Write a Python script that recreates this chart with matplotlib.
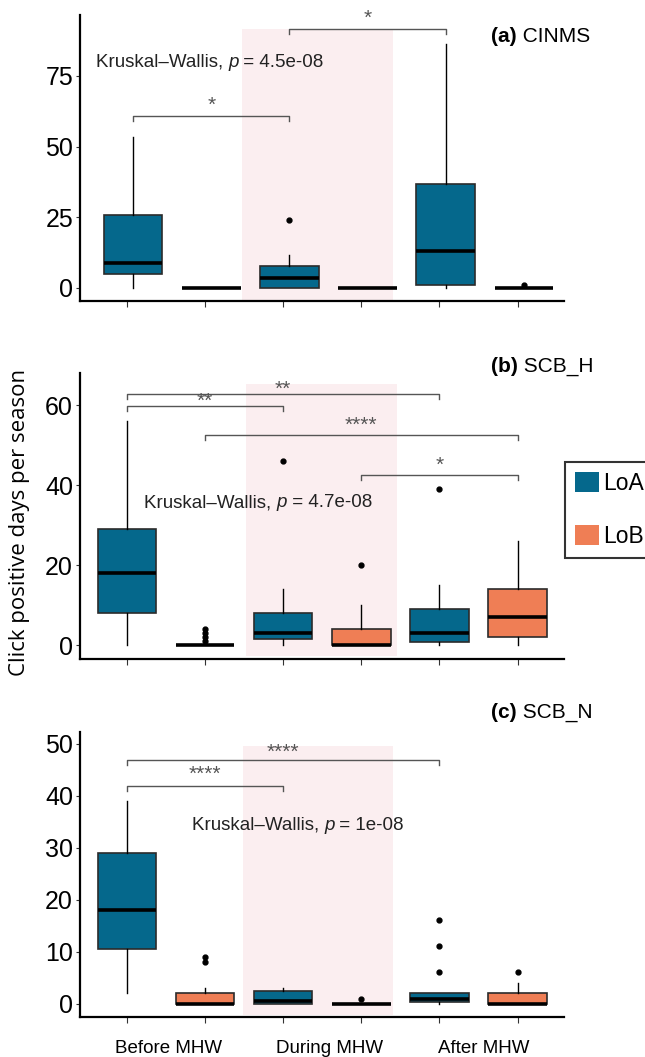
import matplotlib
matplotlib.use("Agg")
from matplotlib import pyplot as plt
from matplotlib.patches import Patch, Rectangle

# six boxes per panel: LoA/LoB for Before, During, After MHW
units = ["LoA", "LoB", "LoA", "LoB", "LoA", "LoB"]
periods = ["Before MHW", "During MHW", "After MHW"]

# (a) CINMS
a_q1 = [4.7, 0, 0, 0, 0.9, 0]
a_med = [8.8, 0, 3.5, 0, 12.9, 0]
a_q3 = [25.8, 0, 7.7, 0, 36.7, 0]
a_lo = [0, 0, 0, 0, 0, 0]
a_hi = [53.5, 0, 11.7, 0, 86.3, 0]
a_out = [[], [], [24], [], [], [1]]
a_pairs = [(0, 2, "*"), (2, 4, "*")]
a_pval = "4.5e-08"

# (b) SCB_H
b_q1 = [8, 0, 1.6, 0, 0.8, 2]
b_med = [18, 0, 3, 0, 3, 7]
b_q3 = [29, 0, 8.2, 4, 9, 14]
b_lo = [0, 0, 0, 0, 0, 0]
b_hi = [56, 0, 14, 10, 15, 26]
b_out = [[], [1, 2, 3, 4], [46], [20], [39], []]
b_pairs = [(0, 2, "**"), (0, 4, "**"), (1, 5, "****"), (3, 5, "*")]
b_pval = "4.7e-08"

# (c) SCB_N
c_q1 = [10.5, 0, 0, 0, 0.25, 0]
c_med = [18, 0, 0.5, 0, 1, 0]
c_q3 = [29, 2, 2.5, 0, 2, 2]
c_lo = [2, 0, 0, 0, 0, 0]
c_hi = [39, 3, 3, 0, 2, 4]
c_out = [[], [8, 9], [], [1], [6, 11, 16], [6]]
c_pairs = [(0, 4, "****"), (0, 2, "****")]
c_pval = "1e-08"

colors = {"LoA": "#05688C", "LoB": "#EF7E55"}
shade = "#FBEEF0"
txt = ["Liberation Sans", "DejaVu Sans"]

plt.rcParams["font.family"] = ["Liberation Sans", "DejaVu Sans"]

fig = plt.figure(figsize=(6.45, 10.57), dpi=100)

panels = [
    dict(q1=a_q1, med=a_med, q3=a_q3, lo=a_lo, hi=a_hi, out=a_out, pairs=a_pairs, p=a_pval,
         title="CINMS", tag="(a)", rect=[0.124, 0.715, 0.750, 0.2706], ylim=(-4.8, 96.5),
         yticks=[0, 25, 50, 75], shift=0.08, shade=(1.47, 3.40, -4.5, 91.7),
         bracket_y=[60.8, 91.7], label_y=[64.5, 95.5], kw_xy=(-0.40, 79.8)),
    dict(q1=b_q1, med=b_med, q3=b_q3, lo=b_lo, hi=b_hi, out=b_out, pairs=b_pairs, p=b_pval,
         title="SCB_H", tag="(b)", rect=[0.124, 0.3765, 0.750, 0.2706], ylim=(-3.4, 68.1),
         yticks=[0, 20, 40, 60], shift=0.0, shade=(1.53, 3.46, -2.6, 65.4),
         bracket_y=[59.8, 62.9, 52.7, 42.7], label_y=[61.0, 64.0, 55.1, 45], kw_xy=(0.22, 35.7)),
    dict(q1=c_q1, med=c_med, q3=c_q3, lo=c_lo, hi=c_hi, out=c_out, pairs=c_pairs, p=c_pval,
         title="SCB_N", tag="(c)", rect=[0.124, 0.0378, 0.750, 0.2696], ylim=(-2.56, 52.2),
         yticks=[0, 10, 20, 30, 40, 50], shift=0.0, shade=(1.48, 3.41, -2.2, 49.5),
         bracket_y=[46.8, 41.9], label_y=[48.3, 44.0], kw_xy=(0.83, 34.3)),
]
title_y = [1 - 36 / 1057, 1 - 367 / 1057, 1 - 712 / 1057]

for k, pn in enumerate(panels):
    ax = fig.add_axes(pn["rect"])
    yr = pn["ylim"][1] - pn["ylim"][0]
    s = pn["shift"]

    x0, x1, y0, y1 = pn["shade"]
    ax.add_patch(Rectangle((x0, y0), x1 - x0, y1 - y0, color=shade, lw=0, zorder=0))

    stats = []
    for i in range(6):
        stats.append(dict(med=pn["med"][i], q1=pn["q1"][i], q3=pn["q3"][i],
                          whislo=pn["lo"][i], whishi=pn["hi"][i], fliers=pn["out"][i]))
    bp = ax.bxp(stats, positions=[i + s for i in range(6)], widths=0.75, patch_artist=True,
                showcaps=False,
                boxprops=dict(edgecolor="#2b2b2b", linewidth=1.2),
                medianprops=dict(color="black", linewidth=2.6),
                whiskerprops=dict(color="black", linewidth=1.0),
                flierprops=dict(marker="o", markerfacecolor="black", markeredgecolor="black",
                                markersize=3.5))
    for patch, u in zip(bp["boxes"], units):
        patch.set_facecolor(colors[u])
        patch.set_zorder(2)

    # significance brackets
    for (g1, g2, lab), by, ly in zip(pn["pairs"], pn["bracket_y"], pn["label_y"]):
        tip = 0.018 * yr
        ax.plot([g1 + s, g1 + s, g2 + s, g2 + s], [by - tip, by, by, by - tip],
                color="#555555", lw=1.0, zorder=3)
        ax.text((g1 + g2) / 2 + s, ly, lab, ha="center", va="center", fontsize=15,
                color="#555555", family=txt)

    t = ax.text(pn["kw_xy"][0], pn["kw_xy"][1], "Kruskal\u2013Wallis, ", ha="left",
                va="center", fontsize=13.5, color="#222222", family=txt)
    t2 = ax.annotate("p", xy=(1, 0), xycoords=t, ha="left", va="bottom", fontsize=13.5,
                     color="#222222", family=txt, style="italic")
    ax.annotate(" = " + pn["p"], xy=(1, 0), xycoords=t2, ha="left", va="bottom",
                fontsize=13.5, color="#222222", family=txt)

    tt = fig.text(491 / 645, title_y[k], pn["tag"], ha="left", va="center", fontsize=15,
                  fontweight="bold", family=txt)
    ax.annotate(" " + pn["title"], xy=(1, 0), xycoords=tt, ha="left", va="bottom",
                fontsize=15, family=txt, annotation_clip=False)

    ax.set_xlim(-0.6, 5.59)
    ax.set_ylim(*pn["ylim"])
    ax.set_yticks(pn["yticks"])
    ax.set_xticks(range(6))
    ax.set_xticklabels([])
    ax.tick_params(axis="y", labelsize=18, length=3, width=0.8, color="#333333", pad=2)
    ax.tick_params(axis="x", length=4, width=0.8, color="#333333")
    for side in ["top", "right"]:
        ax.spines[side].set_visible(False)
    for side in ["left", "bottom"]:
        ax.spines[side].set_linewidth(1.6)
        ax.spines[side].set_color("black")
    ax.patch.set_alpha(0)

    if k == 2:
        for lab, xp in zip(periods, [0.53, 2.6, 4.57]):
            ax.text(xp, -0.11, lab, transform=ax.get_xaxis_transform(), ha="center",
                    va="center", fontsize=13.5, family=txt)

fig.text(0.031, 1 - 522 / 1057, "Click positive days per season", rotation=90,
         ha="center", va="center", fontsize=16, family=["Open Sans", "DejaVu Sans"])

handles = [Patch(facecolor=colors["LoA"], edgecolor="none", label="LoA"),
           Patch(facecolor=colors["LoB"], edgecolor="none", label="LoB")]
leg = fig.legend(handles=handles, loc="center left", bbox_to_anchor=(565 / 645, 1 - 510 / 1057),
                 frameon=True, fancybox=False, edgecolor="black",
                 handlelength=1.05, handleheight=0.95, labelspacing=1.3, handletextpad=0.15,
                 borderpad=0.45, borderaxespad=0, prop={"family": txt, "size": 16.5})
leg.get_frame().set_linewidth(1.5)

fig.savefig("out.png", dpi=100)
